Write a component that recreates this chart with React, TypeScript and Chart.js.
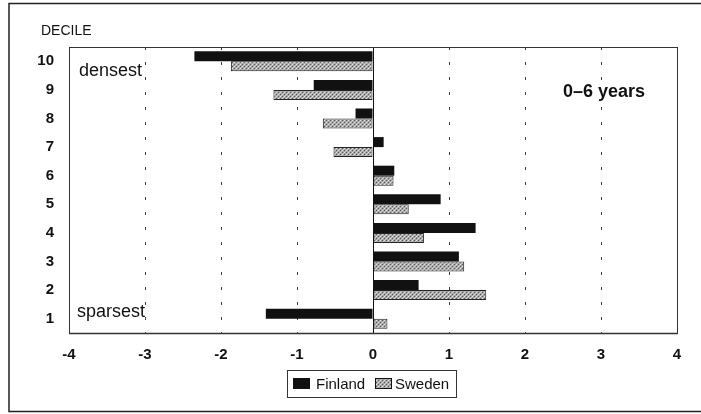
import React, { useRef, useEffect } from 'react'
import { Chart, registerables, ChartConfiguration, Plugin } from 'chart.js'

Chart.register(...registerables)

const deciles = ['10', '9', '8', '7', '6', '5', '4', '3', '2', '1']
const finland = [-2.35, -0.78, -0.23, 0.14, 0.28, 0.89, 1.35, 1.13, 0.6, -1.41]
const sweden = [-1.87, -1.31, -0.66, -0.52, 0.27, 0.47, 0.67, 1.2, 1.49, 0.19]
const seriesNames = ['Finland', 'Sweden']
const xMin = -4
const xMax = 4

const NARROW = '"Liberation Sans Narrow", "Arial Narrow", "Liberation Sans", Arial, sans-serif'
const SANS = '"Liberation Sans", Arial, sans-serif'

// grey dithered fill like the printed Sweden bars
function makeDither(): CanvasPattern | string {
    const c = document.createElement('canvas')
    c.width = 4
    c.height = 4
    const g = c.getContext('2d')
    if (!g) return '#999'
    g.fillStyle = '#a4a4a4'
    g.fillRect(0, 0, 4, 4)
    g.fillStyle = '#e6e6e6'
    g.fillRect(0, 0, 1, 1)
    g.fillRect(2, 2, 1, 1)
    g.fillStyle = '#5a5a5a'
    g.fillRect(2, 0, 1, 1)
    g.fillRect(0, 2, 1, 1)
    g.fillStyle = '#c8c8c8'
    g.fillRect(1, 3, 1, 1)
    g.fillRect(3, 1, 1, 1)
    return g.createPattern(c, 'repeat') || '#999'
}

const decorPlugin: Plugin<'bar'> = {
    id: 'decor',
    beforeDraw(chart) {
        const { ctx, width, height } = chart
        ctx.save()
        ctx.fillStyle = '#fff'
        ctx.fillRect(0, 0, width, height)
        // outer frame (right side runs off the picture)
        ctx.strokeStyle = '#222'
        ctx.lineWidth = 1.5
        ctx.beginPath()
        ctx.moveTo(width, 3.5)
        ctx.lineTo(9, 3.5)
        ctx.lineTo(9, 411.5)
        ctx.lineTo(width, 411.5)
        ctx.stroke()
        ctx.restore()
    },
    afterDraw(chart) {
        const { ctx, chartArea } = chart
        const x = chart.scales.x
        ctx.save()
        // zero line
        const z = Math.round(x.getPixelForValue(0)) + 0.5
        ctx.strokeStyle = '#111'
        ctx.lineWidth = 1
        ctx.beginPath()
        ctx.moveTo(z, chartArea.top)
        ctx.lineTo(z, chartArea.bottom)
        ctx.stroke()
        // plot frame
        ctx.strokeStyle = '#333'
        ctx.lineWidth = 1
        ctx.strokeRect(chartArea.left + 0.5, chartArea.top + 0.5, chartArea.width, chartArea.height)
        ctx.lineWidth = 1.5
        ctx.beginPath()
        ctx.moveTo(chartArea.left, chartArea.bottom + 0.5)
        ctx.lineTo(chartArea.right + 0.5, chartArea.bottom + 0.5)
        ctx.stroke()

        // texts
        ctx.fillStyle = '#111'
        ctx.textBaseline = 'alphabetic'
        ctx.textAlign = 'left'
        ctx.font = '14px ' + SANS
        ctx.fillText('DECILE', 41, 35)
        ctx.font = '18px ' + SANS
        ctx.fillText('densest', 79, 76)
        ctx.fillText('sparsest', 77, 317)
        ctx.font = 'bold 18px ' + SANS
        ctx.fillText('0\u20136 years', 563, 97)

        // legend
        ctx.strokeStyle = '#333'
        ctx.lineWidth = 1
        ctx.strokeRect(287.5, 370.5, 169, 27)
        const ds = chart.data.datasets
        const swatchX = [293, 375]
        const labelX = [316, 395]
        ctx.font = '15px ' + SANS
        ds.forEach((d, i) => {
            ctx.fillStyle = d.backgroundColor as any
            ctx.fillRect(swatchX[i], 378, 17, 11)
            ctx.strokeStyle = '#111'
            ctx.strokeRect(swatchX[i] + 0.5, 378.5, 16, 10)
            ctx.fillStyle = '#111'
            ctx.fillText(String(d.label), labelX[i], 389)
        })
        ctx.restore()
    }
}

export default function App() {
    const canvasRef = useRef<HTMLCanvasElement | null>(null)
    const chartRef = useRef<Chart<'bar', number[], string> | null>(null)

    useEffect(() => {
        if (!canvasRef.current) return
        const dither = makeDither()

        const config: ChartConfiguration<'bar', number[], string> = {
            type: 'bar',
            data: {
                labels: deciles,
                datasets: [
                    {
                        label: seriesNames[0],
                        data: finland,
                        backgroundColor: '#111',
                        borderColor: '#111',
                        borderWidth: 0,
                        categoryPercentage: 0.7,
                        barPercentage: 1
                    },
                    {
                        label: seriesNames[1],
                        data: sweden,
                        backgroundColor: dither as any,
                        borderColor: '#222',
                        borderWidth: 1,
                        borderSkipped: false,
                        categoryPercentage: 0.7,
                        barPercentage: 1
                    }
                ]
            },
            options: {
                indexAxis: 'y',
                responsive: false,
                animation: false,
                layout: { padding: { top: 47, right: 24, bottom: 51, left: 0 } },
                plugins: {
                    legend: { display: false },
                    title: { display: false },
                    tooltip: { enabled: false }
                },
                scales: {
                    x: {
                        type: 'linear',
                        min: xMin,
                        max: xMax,
                        ticks: {
                            stepSize: 1,
                            padding: 13,
                            color: '#111',
                            font: { family: NARROW, size: 15, weight: 'bold' }
                        },
                        grid: {
                            drawTicks: false,
                            color: (c: any) => {
                                const v = c.tick ? c.tick.value : 0
                                return v === xMin || v === xMax || v === 0 ? 'rgba(0,0,0,0)' : '#444'
                            },
                            lineWidth: 1
                        },
                        border: { display: false, dash: [3, 12] },
                        afterFit: (s: any) => { s.height = 30 }
                    },
                    y: {
                        type: 'category',
                        ticks: {
                            padding: 15,
                            color: '#111',
                            font: { family: NARROW, size: 15, weight: 'bold' }
                        },
                        grid: { display: false, drawTicks: false },
                        border: { display: false },
                        afterFit: (s: any) => { s.width = 69 }
                    }
                }
            },
            plugins: [decorPlugin]
        }

        chartRef.current = new Chart(canvasRef.current, config)
        return () => {
            chartRef.current?.destroy()
        }
    }, [])

    return (
        <div style={{ position: 'fixed', left: 0, top: 0, width: 701, height: 414, background: '#fff' }}>
            <canvas ref={canvasRef} width={701} height={414} style={{ width: 701, height: 414 }} />
        </div>
    )
}
